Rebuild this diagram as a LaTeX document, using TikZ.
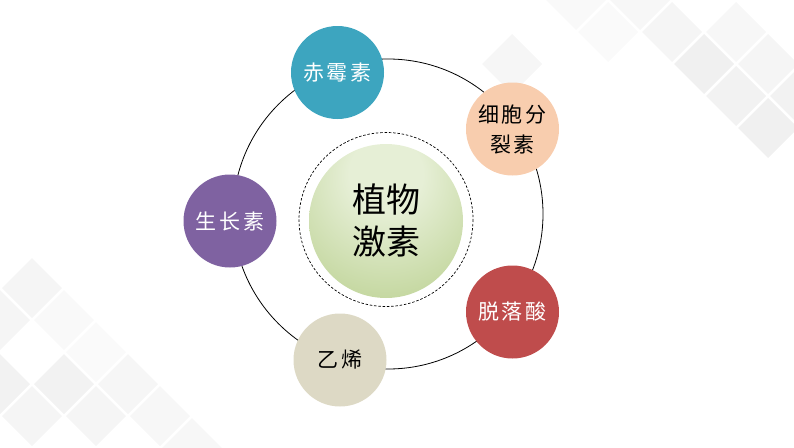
\documentclass[tikz,border=0pt]{standalone}
\usepackage{fontspec}
\newfontfamily\cjk[LetterSpace=14]{Noto Sans CJK SC}
\newfontfamily\cjkmain{Noto Sans CJK SC}
\definecolor{gibcol}{HTML}{3DA5BF}
\definecolor{cytcol}{HTML}{F8CDAE}
\definecolor{auxcol}{HTML}{7F62A1}
\definecolor{abacol}{HTML}{BF4C4C}
\definecolor{ethcol}{HTML}{DDD9C5}
\definecolor{gclight}{HTML}{E6EFD6}
\definecolor{gcdark}{HTML}{9FBD64}
\pgfdeclareradialshading{greenball}{\pgfpoint{0bp}{18bp}}{color(0bp)=(gclight); color(12bp)=(gclight); color(62bp)=(gcdark); color(80bp)=(gcdark)}
\begin{document}
\begin{tikzpicture}[x=1pt,y=-1pt,
    hormone/.style={circle,minimum size=93pt,inner sep=0pt,align=center,
      font=\cjk\fontsize{21}{30}\selectfont}]
    \useasboundingbox (0,0) rectangle (794,447);
      %
      \foreach \x/\y/\o in {704/64/0.06,768/64/0.04,736/96/0.05,672/32/0.04,640/0/0.03,
          768/128/0.06,736/32/0.03,576/0/0.025,512/64/0.035,800/96/0.05,608/32/0.02,
          32/288/0.04,0/320/0.04,64/384/0.05,96/416/0.04,128/384/0.035,
          32/416/0.04,160/416/0.03,0/384/0.05,192/448/0.03,64/320/0.025,96/352/0.02}
        \fill[black,opacity=\o] (\x-30,\y) -- (\x,\y-30) -- (\x+30,\y) -- (\x,\y+30) -- cycle;
      %
      \draw[line width=0.8pt] (388,214) circle [radius=155];
      \draw[line width=0.7pt,dash pattern=on 2.5pt off 1.8pt] (386,219.5) circle [radius=87];
      \shade[shading=greenball] (386,221) circle [radius=77];
      \node[align=center,font=\cjkmain\fontsize{34}{42}\selectfont] (plant) at (386,221) {植物\\激素};
      %
      \node[hormone,fill=gibcol,text=white] (gib) at (337.5,72.5) {赤霉素};
      \node[hormone,fill=cytcol,text=black] (cyt) at (512.5,129) {细胞分\\裂素};
      \node[hormone,fill=auxcol,text=white] (aux) at (230,221) {生长素};
      \node[hormone,fill=abacol,text=white] (aba) at (512.5,312) {脱落酸};
      \node[hormone,fill=ethcol,text=black] (eth) at (340,360) {乙烯};
    \end{tikzpicture}
\end{document}
